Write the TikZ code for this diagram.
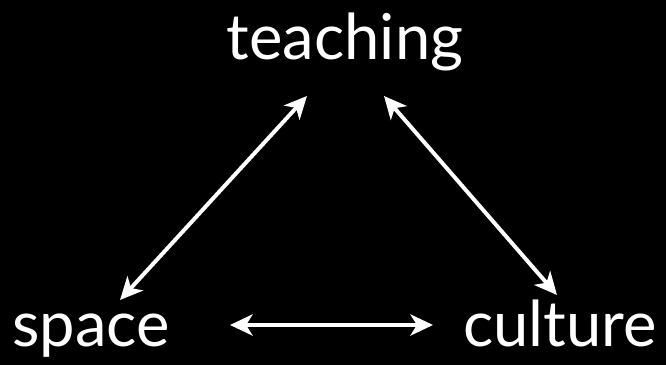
\documentclass[tikz,border=0pt]{standalone}
\usepackage{fontspec}
\setmainfont{Lato}
\usepackage{tikz}
\usetikzlibrary{arrows.meta,calc}
\definecolor{slidebg}{RGB}{0,0,0}
\definecolor{slidetext}{RGB}{255,255,255}
\tikzset{
  word/.style={font=\fontsize{45}{54}\selectfont, text=slidetext, inner sep=0pt, anchor=base},
  arr2/.style={line width=2.8pt, draw=slidetext, arrows={Stealth[length=16pt,width=15pt,inset=4.5pt]-Stealth[length=16pt,width=15pt,inset=4.5pt]}},
}
\begin{document}
\begin{tikzpicture}[x=0.025cm,y=-0.025cm]
  \fill[slidebg] (0,0) rectangle (666,365);
  \useasboundingbox (0,0) rectangle (666,365);
  \node[word] (teaching) at (345,60)  {teaching};
  \node[word] (space)    at (91,347)  {space};
  \node[word] (culture)  at (560,347) {culture};
  \draw[arr2] ($(teaching.base)+(-38,36)$) -- ($(space.base)+(29,-47)$);
  \draw[arr2] ($(teaching.base)+(39,36)$) -- ($(culture.base)+(-3,-52)$);
  \draw[arr2] ($(space.base)+(139,-22)$) -- ($(culture.base)+(-127,-22)$);
\end{tikzpicture}
\end{document}
